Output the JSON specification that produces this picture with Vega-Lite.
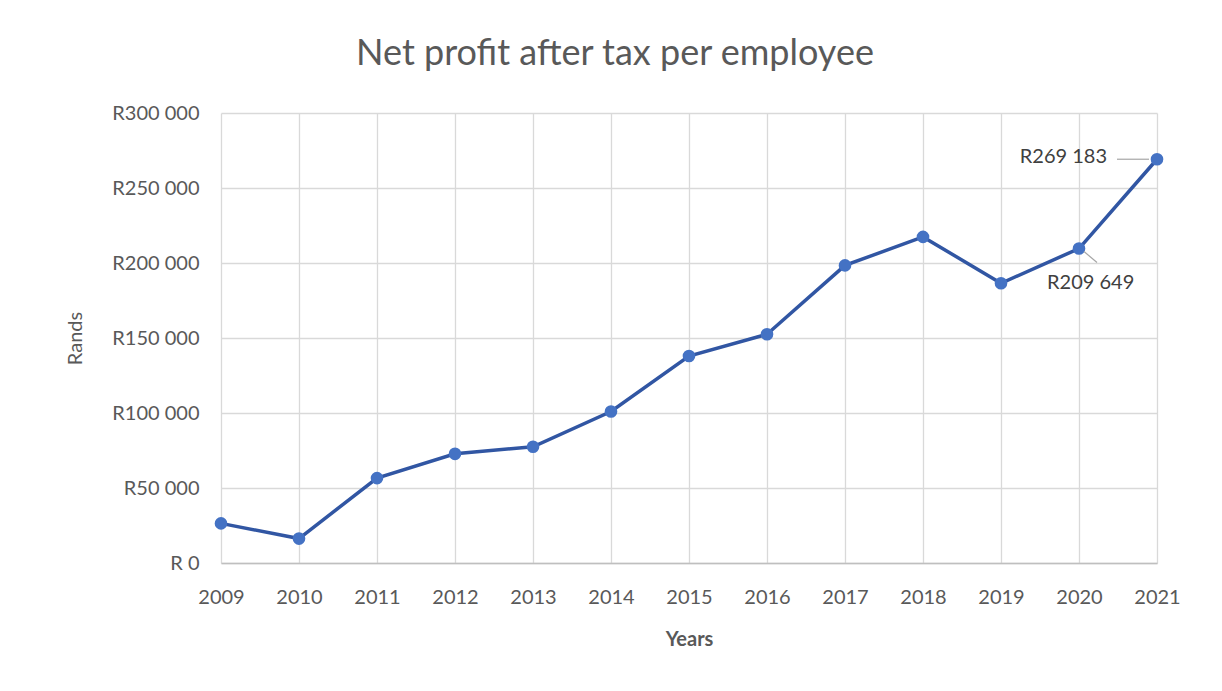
{
  "$schema": "https://vega.github.io/schema/vega-lite/v6.json",
  "width": 936,
  "height": 450,
  "autosize": {"type": "none"},
  "padding": {"left": 221, "top": 113, "right": 65, "bottom": 128},
  "background": "white",
  "config": {
    "font": "Lato",
    "view": {"stroke": null},
    "locale": {"number": {"decimal": ".", "thousands": " ", "grouping": [3], "currency": ["R", ""]}}
  },
  "title": {
    "text": "Net profit after tax per employee",
    "font": "Lato",
    "fontSize": 36,
    "fontWeight": "normal",
    "color": "#595959",
    "anchor": "middle",
    "dx": -74,
    "offset": 30
  },
  "data": {
    "values": [
      {"year": "2009", "value": 26400},
      {"year": "2010", "value": 16300},
      {"year": "2011", "value": 56600},
      {"year": "2012", "value": 72800},
      {"year": "2013", "value": 77500},
      {"year": "2014", "value": 101000},
      {"year": "2015", "value": 138000},
      {"year": "2016", "value": 152500},
      {"year": "2017", "value": 198400},
      {"year": "2018", "value": 217400},
      {"year": "2019", "value": 186500},
      {"year": "2020", "value": 209649, "label": "R209 649"},
      {"year": "2021", "value": 269183, "label": "R269 183"}
    ]
  },
  "encoding": {
    "x": {
      "field": "year",
      "type": "ordinal",
      "scale": {"type": "point", "padding": 0},
      "axis": {
        "title": "Years",
        "titleFont": "Lato",
        "titleFontSize": 20,
        "titleFontWeight": "bold",
        "titleColor": "#595959",
        "titlePadding": 22,
        "labelAngle": 0,
        "labelFont": "Lato",
        "labelFontSize": 20,
        "labelColor": "#595959",
        "labelPadding": 24,
        "ticks": false,
        "grid": true,
        "gridColor": "#D9D9D9",
        "gridWidth": 1.3,
        "domainColor": "#BFBFBF",
        "domainWidth": 1.5
      }
    },
    "y": {
      "field": "value",
      "type": "quantitative",
      "scale": {"domain": [0, 300000], "nice": false},
      "axis": {
        "title": "Rands",
        "titleFont": "Lato",
        "titleFontSize": 20,
        "titleFontWeight": "normal",
        "titleColor": "#595959",
        "titlePadding": 26,
        "values": [0, 50000, 100000, 150000, 200000, 250000, 300000],
        "format": "$,.0f",
        "labelExpr": "datum.value == 0 ? 'R 0' : datum.label",
        "labelFont": "Lato",
        "labelFontSize": 20,
        "labelColor": "#595959",
        "labelPadding": 22,
        "ticks": false,
        "domain": false,
        "grid": true,
        "gridColor": "#D9D9D9",
        "gridWidth": 1.3
      }
    }
  },
  "layer": [
    {"mark": {"type": "line", "color": "#3156A3", "strokeWidth": 3.5}},
    {"mark": {"type": "point", "filled": true, "color": "#4472C4", "opacity": 1, "size": 160}},
    {
      "transform": [{"filter": "datum.year == '2021'"}],
      "mark": {"type": "rule", "color": "#A6A6A6", "strokeWidth": 1.2, "xOffset": -40, "x2Offset": -8},
      "encoding": {"x2": {"field": "year"}, "y2": {"field": "value"}}
    },
    {
      "transform": [{"filter": "datum.year == '2020'"}],
      "mark": {"type": "rule", "color": "#A6A6A6", "strokeWidth": 1.2, "xOffset": 5, "yOffset": 3, "x2Offset": 18, "y2Offset": 14},
      "encoding": {"x2": {"field": "year"}, "y2": {"field": "value"}}
    },
    {
      "transform": [{"filter": "datum.year == '2021'"}],
      "mark": {"type": "text", "align": "right", "baseline": "middle", "dx": -50, "dy": -2, "font": "Lato", "fontSize": 20, "color": "#404040"},
      "encoding": {"text": {"field": "label"}}
    },
    {
      "transform": [{"filter": "datum.year == '2020'"}],
      "mark": {"type": "text", "align": "left", "baseline": "middle", "dx": -32, "dy": 34, "font": "Lato", "fontSize": 20, "color": "#404040"},
      "encoding": {"text": {"field": "label"}}
    }
  ]
}
